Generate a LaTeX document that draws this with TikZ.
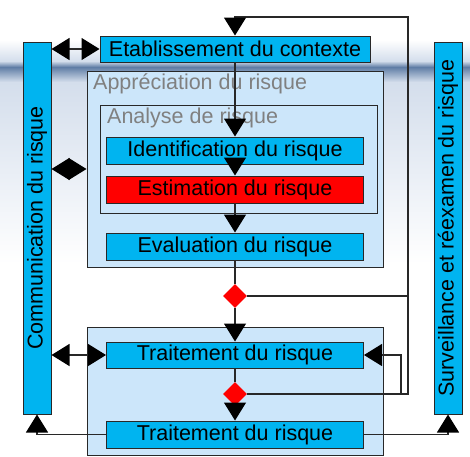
\documentclass[tikz,border=0pt]{standalone}
\usepackage{fontspec}
\setmainfont{Liberation Sans}
\usetikzlibrary{positioning,calc,arrows.meta,shapes.geometric}
\definecolor{boxblue}{RGB}{0,180,240}
\definecolor{paleblue}{RGB}{204,230,250}
\definecolor{bandblue}{RGB}{95,125,165}
\definecolor{hazeblue}{RGB}{212,222,236}
\definecolor{edgegray}{RGB}{40,40,40}

\begin{document}
\begin{tikzpicture}[x=1pt,y=-1pt,
        font=\fontsize{21.5}{24}\selectfont,
        >={Triangle[length=18pt,width=22pt,color=black]},
        stage/.style={draw=edgegray,line width=1pt,fill=boxblue,minimum width=257pt,minimum height=27pt,inner sep=0pt},
        frame/.style={draw=edgegray,line width=1pt,fill=paleblue,inner sep=0pt},
        side/.style={draw=edgegray,line width=1pt,fill=boxblue,minimum width=28pt,minimum height=372pt,inner sep=0pt},
        flow/.style={draw=edgegray,line width=1.2pt},
        gate/.style={diamond,fill=red,minimum width=24pt,minimum height=24pt,inner sep=0pt},
        tag/.style={text=gray,anchor=west,inner sep=0pt}]
        \useasboundingbox (0,0) rectangle (470,456);

        % Background band
        \fill[white] (0,0) rectangle (470,456);
        \shade[top color=white,bottom color=hazeblue] (0,40) rectangle (470,61);
        \shade[top color=hazeblue,bottom color=bandblue] (0,61) rectangle (470,67);
        \shade[top color=bandblue,bottom color=hazeblue] (0,67) rectangle (470,82);
        \shade[top color=hazeblue,bottom color=white] (0,82) rectangle (470,264);

        % Frames
        \node[frame,minimum width=296pt,minimum height=196pt] (appr) at (235,169) {};
        \node[tag] (apprtag) at (93,84) {Appréciation du risque};
        \node[frame,minimum width=277pt,minimum height=108pt] (anal) at (238.5,159) {};
        \node[tag] (analtag) at (107,118) {Analyse de risque};
        \node[frame,minimum width=296pt,minimum height=128pt] (treat) at (235,391) {};

        % Stages
        \node[stage,minimum width=270pt,minimum height=26pt] (ctx) at (235,49) {Etablissement du contexte};
        \node[stage] (ident) at (235,150.5) {Identification du risque};
        \node[stage,fill=red] (estim) at (235,189.5) {Estimation du risque};
        \node[stage] (eval) at (235,246.5) {Evaluation du risque};
        \node[stage,minimum height=26pt] (trt1) at (235,355) {Traitement du risque};
        \node[stage] (trt2) at (235,434.5) {Traitement du risque};

        % Side bars
        \node[side] (comm) at (37,228) {};
        \node[rotate=90] (commtxt) at (comm) {Communication du risque};
        \node[side] (surv) at (448,228) {};
        \node[rotate=90] (survtxt) at (surv) {Surveillance et réexamen du risque};

        % Decisions
        \node[gate] (d1) at (235,296) {};
        \node[gate] (d2) at (235,394) {};

        % Main flow
        \draw[flow,->] (ctx) -- (ident);
        \draw[flow,->] (ident) -- (estim);
        \draw[flow,->] (estim) -- (eval);
        \draw[flow] (eval) -- (d1);
        \draw[flow,->] (d1) -- (trt1);
        \draw[flow] (trt1) -- (d2);
        \draw[flow,->] (d2) -- (trt2);

        % Loops back
        \coordinate (loopR) at (408,17);
        \coordinate (redo) at (401,355);
        \draw[flow,->] (d2.east) -| (loopR) -| (ctx.north);
        \draw[flow] (d1.east) -- (d1.east -| loopR);
        \draw[flow,->] (d2.east) -| (redo) -- (trt1.east);

        % Side links
        \draw[flow,<->] (comm.east |- ctx.west) -- (ctx.west);
        \draw[flow,<->] (comm.east |- appr.west) -- (appr.west);
        \draw[flow,<->] (comm.east |- trt1.west) -- (trt1.west);
        \draw[flow,->] (trt2.west) -| (comm.south);
        \draw[flow,->] (trt2.east) -| (surv.south);
    \end{tikzpicture}
\end{document}
